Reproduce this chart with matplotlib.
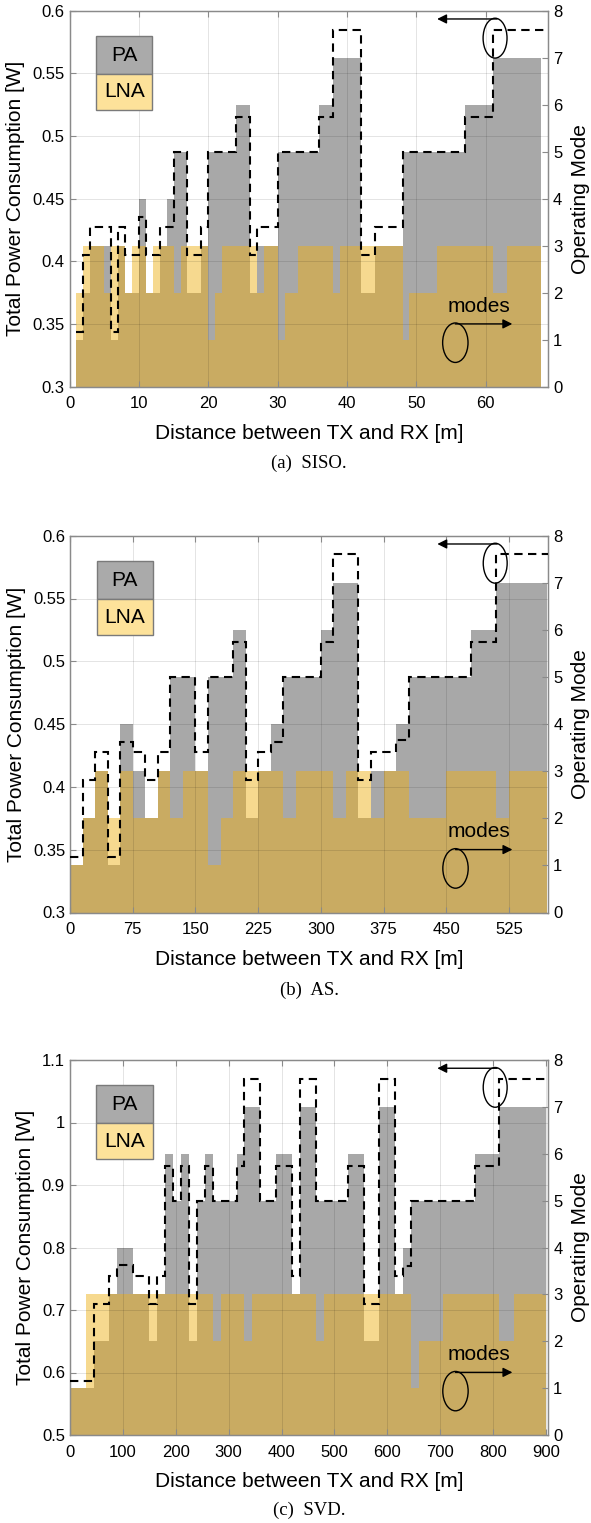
import numpy as np
import matplotlib
matplotlib.use("Agg")
import matplotlib.pyplot as plt
from matplotlib.patches import Ellipse, Rectangle
from matplotlib.ticker import FormatStrFormatter

plt.rcParams['font.family'] = ['Liberation Sans', 'DejaVu Sans']

# (a) SISO : segment edges [m], total power (PA+LNA) [W], LNA power [W], operating mode
a_edges = [1, 2, 3, 5, 6, 7, 8, 9, 10, 11, 12, 13, 14, 15, 16, 17, 19, 20, 21, 22, 24, 26, 27, 28,
           30, 31, 33, 36, 38, 39, 42, 44, 48, 49, 53, 57, 61, 63, 68]
a_total = [0.3375, 0.375, 0.4125, 0.4125, 0.3375, 0.4125, 0.375, 0.375, 0.45, 0.375, 0.375, 0.4125,
           0.45, 0.4875, 0.4875, 0.375, 0.4125, 0.4875, 0.4875, 0.4875, 0.525, 0.375, 0.4125, 0.4125,
           0.4875, 0.4875, 0.4875, 0.525, 0.5625, 0.5625, 0.375, 0.4125, 0.4875, 0.4875, 0.4875,
           0.525, 0.5625, 0.5625]
a_lna = [0.375, 0.4125, 0.4125, 0.375, 0.4125, 0.4125, 0.375, 0.4125, 0.4125, 0.375, 0.4125, 0.4125,
         0.4125, 0.375, 0.4125, 0.4125, 0.4125, 0.3375, 0.375, 0.4125, 0.4125, 0.4125, 0.375, 0.4125,
         0.3375, 0.375, 0.4125, 0.4125, 0.375, 0.4125, 0.4125, 0.4125, 0.3375, 0.375, 0.4125, 0.4125,
         0.375, 0.4125]
a_mode = [1.17, 2.8, 3.39, 3.39, 1.17, 3.39, 2.8, 2.8, 3.62, 2.8, 2.8, 3.39, 3.39, 5.0, 5.0, 2.8,
          3.39, 5.0, 5.0, 5.0, 5.73, 2.8, 3.39, 3.39, 5.0, 5.0, 5.0, 5.73, 7.6, 7.6, 2.8, 3.39, 5.0,
          5.0, 5.0, 5.73, 7.6, 7.6]

# (b) AS
b_edges = [0, 15, 30, 45, 60, 75, 90, 105, 120, 135, 150, 165, 180, 195, 210, 225, 240, 255, 270,
           300, 315, 330, 345, 360, 375, 390, 405, 450, 480, 510, 525, 570]
b_total = [0.3375, 0.375, 0.4125, 0.3375, 0.45, 0.4125, 0.375, 0.4125, 0.4875, 0.4875, 0.4125,
           0.4875, 0.4875, 0.525, 0.375, 0.4125, 0.45, 0.4875, 0.4875, 0.525, 0.5625, 0.5625, 0.375,
           0.4125, 0.4125, 0.45, 0.4875, 0.4875, 0.525, 0.5625, 0.5625]
b_lna = [0.3375, 0.375, 0.4125, 0.375, 0.4125, 0.375, 0.375, 0.4125, 0.375, 0.4125, 0.4125, 0.3375,
         0.375, 0.4125, 0.4125, 0.4125, 0.4125, 0.375, 0.4125, 0.4125, 0.375, 0.4125, 0.4125, 0.375,
         0.4125, 0.4125, 0.375, 0.4125, 0.4125, 0.375, 0.4125]
b_mode = [1.17, 2.81, 3.4, 1.17, 3.63, 3.4, 2.81, 3.4, 5, 5, 3.4, 5, 5, 5.75, 2.81, 3.4, 3.63, 5, 5,
          5.75, 7.61, 7.61, 2.81, 3.4, 3.4, 3.66, 5, 5, 5.75, 7.61, 7.61]

# (c) SVD
c_edges = [0, 30, 45, 75, 90, 120, 150, 165, 180, 195, 210, 225, 240, 255, 270, 285, 315, 330, 345,
           360, 390, 420, 435, 465, 480, 525, 555, 585, 615, 630, 645, 660, 705, 765, 810, 840, 900]
c_total = [0.575, 0.575, 0.65, 0.725, 0.8, 0.725, 0.65, 0.725, 0.95, 0.875, 0.95, 0.65, 0.875, 0.95,
           0.875, 0.875, 0.95, 1.025, 1.025, 0.875, 0.95, 0.725, 1.025, 0.875, 0.875, 0.95, 0.65,
           1.025, 0.725, 0.8, 0.875, 0.875, 0.875, 0.95, 1.025, 1.025]
c_lna = [0.575, 0.725, 0.725, 0.725, 0.725, 0.725, 0.725, 0.725, 0.725, 0.725, 0.725, 0.725, 0.725,
         0.725, 0.65, 0.725, 0.725, 0.65, 0.725, 0.725, 0.725, 0.725, 0.725, 0.65, 0.725, 0.725,
         0.725, 0.725, 0.725, 0.725, 0.575, 0.65, 0.725, 0.725, 0.65, 0.725]
c_mode = [1.16, 1.16, 2.79, 3.39, 3.63, 3.39, 2.79, 3.39, 5.74, 5.0, 5.74, 2.79, 5.0, 5.74, 5.0, 5.0,
          5.74, 7.6, 7.6, 5.0, 5.74, 3.39, 7.6, 5.0, 5.0, 5.74, 2.79, 7.6, 3.39, 3.6, 5.0, 5.0, 5.0,
          5.74, 7.6, 7.6]

panels = [
    dict(edges=a_edges, total=a_total, lna=a_lna, mode=a_mode, xlim=(0, 69), ylim=(0.3, 0.6),
         xticks=np.arange(0, 61, 10), yticks=np.arange(0.3, 0.601, 0.05), caption="(a)  SISO."),
    dict(edges=b_edges, total=b_total, lna=b_lna, mode=b_mode, xlim=(0, 572), ylim=(0.3, 0.6),
         xticks=np.arange(0, 526, 75), yticks=np.arange(0.3, 0.601, 0.05), caption="(b)  AS."),
    dict(edges=c_edges, total=c_total, lna=c_lna, mode=c_mode, xlim=(0, 904), ylim=(0.5, 1.1),
         xticks=np.arange(0, 901, 100), yticks=np.arange(0.5, 1.101, 0.1), caption="(c)  SVD."),
]

W, H = 591, 1523
fig = plt.figure(figsize=(W / 100, H / 100), dpi=100)

# axes boxes in pixels: left, top, right, bottom
boxes = [(69.5, 10.7, 548.2, 386.7), (70, 535.7, 548.3, 912.5), (69.8, 1060, 548.3, 1435)]
caption_y = [463, 990, 1510]

gray = "#a8a8a8"
yellow = "#eeb016"
spine = "#8a8a8a"

for p, (l, t, r, b), cy in zip(panels, boxes, caption_y):
    ax = fig.add_axes([l / W, 1 - b / H, (r - l) / W, (b - t) / H])
    y0 = p["ylim"][0]
    ax.stairs(p["total"], p["edges"], baseline=y0, fill=True, color=gray, lw=0, zorder=1)
    ax.stairs(p["lna"], p["edges"], baseline=y0, fill=True, color=yellow, alpha=0.48, lw=0, zorder=2)
    ax.set_xlim(p["xlim"])
    ax.set_ylim(p["ylim"])
    ax.set_xticks(p["xticks"])
    ax.set_yticks(p["yticks"])
    ax.yaxis.set_major_formatter(FormatStrFormatter("%g"))
    ax.grid(True, color="k", alpha=0.11, lw=0.7)
    ax.set_axisbelow(False)
    ax.tick_params(direction="in", length=4, labelsize=12, top=True, color=spine, width=0.8)
    ax.tick_params(axis="x", pad=7)
    ax.set_xlabel("Distance between TX and RX [m]", fontsize=15, labelpad=9)
    ax.set_ylabel("Total Power Consumption [W]", fontsize=15, labelpad=5)
    for s in ax.spines.values():
        s.set_color(spine)
        s.set_linewidth(0.9)

    # operating mode on the right axis
    ax2 = ax.twinx()
    mode_edges = list(p["edges"][:-1]) + [p["xlim"][1]]
    ax2.stairs(p["mode"], mode_edges, baseline=None, color="k", lw=1.5,
               linestyle=(0, (4, 2.6)), zorder=3)
    ax2.set_ylim(0, 8)
    ax2.set_yticks(np.arange(0, 9, 1))
    ax2.tick_params(direction="in", length=4, labelsize=12, color=spine, width=0.8)
    ax2.set_ylabel("Operating Mode", fontsize=15, labelpad=6)
    for s in ax2.spines.values():
        s.set_color(spine)
        s.set_linewidth(0.9)

    # legend boxes
    ax2.add_patch(Rectangle((0.0555, 0.8316), 0.1177, 0.1012, transform=ax2.transAxes,
                            facecolor="#aaaaaa", edgecolor="#7a7a7a", lw=1, zorder=5))
    ax2.add_patch(Rectangle((0.0555, 0.7359), 0.1177, 0.0957, transform=ax2.transAxes,
                            facecolor="#fde29a", edgecolor="#7a7a7a", lw=1, zorder=5))
    ax2.text(0.1143, 0.882, "PA", transform=ax2.transAxes, ha="center", va="center",
             fontsize=15, zorder=6)
    ax2.text(0.1143, 0.7838, "LNA", transform=ax2.transAxes, ha="center", va="center",
             fontsize=15, zorder=6)

    # annotation: left axis marker
    ax2.add_patch(Ellipse((0.889, 0.927), 0.05, 0.106, transform=ax2.transAxes,
                          fill=False, edgecolor="k", lw=1, zorder=5))
    ax2.annotate("", xy=(0.768, 0.978), xytext=(0.893, 0.978), xycoords="axes fraction",
                 arrowprops=dict(arrowstyle="-|>", color="k", lw=1, mutation_scale=14,
                                 shrinkA=0, shrinkB=0), zorder=5)
    # annotation: modes marker
    ax2.add_patch(Ellipse((0.806, 0.117), 0.053, 0.105, transform=ax2.transAxes,
                          fill=False, edgecolor="k", lw=1, zorder=5))
    ax2.annotate("", xy=(0.925, 0.167), xytext=(0.806, 0.167), xycoords="axes fraction",
                 arrowprops=dict(arrowstyle="-|>", color="k", lw=1, mutation_scale=14,
                                 shrinkA=0, shrinkB=0), zorder=5)
    ax2.text(0.856, 0.214, "modes", transform=ax2.transAxes, ha="center", va="center",
             fontsize=15, zorder=6)

    fig.text((l + r) / 2 / W, 1 - cy / H, p["caption"], ha="center", va="center",
             fontsize=13.5, family="Liberation Serif")

fig.savefig("out.png", dpi=100)
